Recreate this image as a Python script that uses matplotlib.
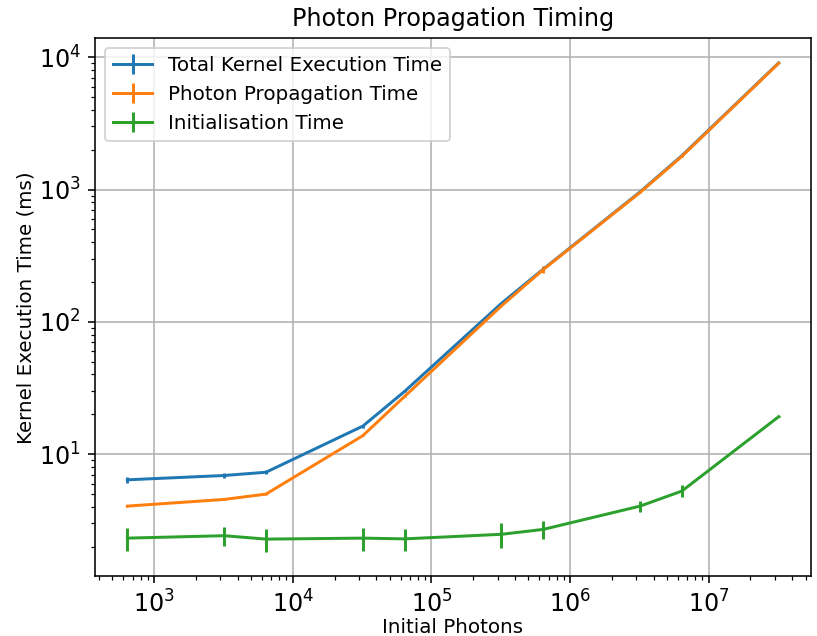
import numpy as np
import matplotlib
matplotlib.use("Agg")
import matplotlib.pyplot as plt

# data
photons = [640, 3200, 6400, 32000, 64000, 320000, 640000, 3.2e6, 6.4e6, 3.2e7]

total_time = [6.4, 6.9, 7.3, 16.3, 29.8, 138, 250, 960, 1800, 9060]
total_err = [0.3, 0.25, 0.25, 0.4, 0.5, 2, 5, 10, 20, 40]

prop_time = [4.05, 4.55, 4.99, 13.8, 27.3, 132, 248, 950, 1780, 9000]
prop_err = [0.05, 0.05, 0.05, 0.1, 0.2, 1, 15, 5, 10, 30]

init_time = [2.32, 2.42, 2.28, 2.32, 2.29, 2.48, 2.70, 4.05, 5.26, 19.2]
init_err = [0.45, 0.40, 0.45, 0.45, 0.45, 0.52, 0.42, 0.40, 0.55, 0.1]

DPI = 143
fig, ax = plt.subplots(figsize=(817 / DPI, 636 / DPI), dpi=DPI)

ax.errorbar(photons, total_time, yerr=total_err, label="Total Kernel Execution Time")
ax.errorbar(photons, prop_time, yerr=prop_err, label="Photon Propagation Time")
ax.errorbar(photons, init_time, yerr=init_err, label="Initialisation Time")

ax.set_xscale("log")
ax.set_yscale("log")
ax.grid(True)
ax.tick_params(labelsize=12)
ax.set_title("Photon Propagation Timing")
ax.set_xlabel("Initial Photons", labelpad=0.5)
ax.set_ylabel("Kernel Execution Time (ms)", labelpad=1.5)
ax.legend(loc="upper left")

fig.subplots_adjust(left=0.116, right=0.993, top=0.940, bottom=0.094)
fig.savefig("out.png", dpi=DPI)
